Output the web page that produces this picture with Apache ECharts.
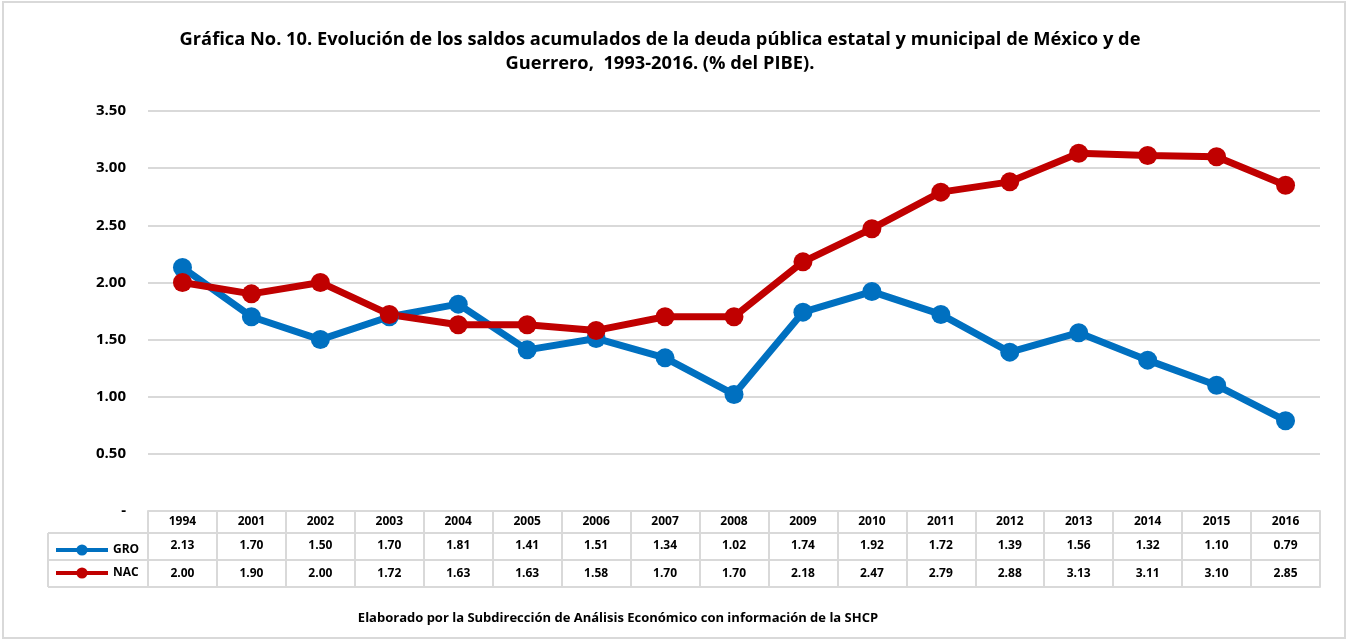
<!DOCTYPE html>
<html><head><meta charset="utf-8">
<script src="https://cdn.jsdelivr.net/npm/echarts@6/dist/echarts.min.js"></script>
<style>html,body{margin:0;padding:0;background:#fff}#c{width:1349px;height:642px}</style>
</head><body><div id="c"></div>
<script>
const years = ['1994','2001','2002','2003','2004','2005','2006','2007','2008','2009','2010','2011','2012','2013','2014','2015','2016'];
const GRO = [2.13,1.70,1.50,1.70,1.81,1.41,1.51,1.34,1.02,1.74,1.92,1.72,1.39,1.56,1.32,1.10,0.79];
const NAC = [2.00,1.90,2.00,1.72,1.63,1.63,1.58,1.70,1.70,2.18,2.47,2.79,2.88,3.13,3.11,3.10,2.85];
const yTicks = [0,0.5,1,1.5,2,2.5,3,3.5];

const FONT = '"Open Sans", "DejaVu Sans", sans-serif';
const BORDER = '#d9d9d9';
const chart = echarts.init(document.getElementById('c'));
const G = {left:148, right:29, top:111, bottom:131};
function tableAxis(offset, fmt, tickLen, margin){
  return {
    type:'category', data:years, position:'bottom', offset:offset, boundaryGap:true,
    axisLine:{show:true, lineStyle:{color:BORDER, width:2}},
    axisTick:{show:true, interval:0, alignWithLabel:false, length:tickLen, lineStyle:{color:BORDER, width:2}},
    axisLabel:{show:true, interval:0, margin:margin, color:'#000', fontWeight:'bold', fontSize:12, fontFamily:FONT, formatter:fmt},
    splitLine:{show:false}
  };
}
const bottomY = 642 - G.bottom;
chart.setOption({
  animation:false,
  title:{
    text:'Gráfica No. 10. Evolución de los saldos acumulados de la deuda pública estatal y municipal de México y de\nGuerrero,  1993-2016. (% del PIBE).',
    left:655, top:23, textAlign:'center',
    textStyle:{fontFamily:FONT, fontWeight:'bold', fontSize:18.3, lineHeight:24, color:'#000'}
  },
  grid:G,
  legend:{
    orient:'vertical', left:49, top:539, itemGap:11, itemWidth:52, itemHeight:14,
    lineStyle:{width:4},
    textStyle:{color:'#000', fontWeight:'bold', fontSize:12, fontFamily:FONT},
    data:['GRO','NAC']
  },
  xAxis:[
    tableAxis(0, v=>v, 22, 5),
    tableAxis(22, (v,i)=>GRO[i].toFixed(2), 27, 7),
    tableAxis(49, (v,i)=>NAC[i].toFixed(2), 27, 8),
    {type:'category', data:years, position:'bottom', offset:76, axisLine:{show:true, lineStyle:{color:BORDER,width:2}}, axisTick:{show:false}, axisLabel:{show:false}}
  ],
  yAxis:{
    type:'value', min:0, max:3.5, interval:0.5,
    axisLine:{show:false}, axisTick:{show:false},
    splitLine:{lineStyle:{color:BORDER, width:2}},
    axisLabel:{margin:22, color:'#000', fontWeight:'bold', fontSize:15, fontFamily:FONT,
      formatter:v=> v===0 ? '-' : v.toFixed(2)}
  },
  series:[
    {name:'GRO', type:'line', data:GRO, xAxisIndex:0, symbol:'circle', symbolSize:19,
     lineStyle:{color:'#0070C0', width:7}, itemStyle:{color:'#0070C0'}},
    {name:'NAC', type:'line', data:NAC, xAxisIndex:0, symbol:'circle', symbolSize:19,
     lineStyle:{color:'#C00000', width:7}, itemStyle:{color:'#C00000'}}
  ],
  graphic:[
    {type:'rect', shape:{x:3, y:2, width:1342, height:636}, style:{fill:'none', stroke:BORDER, lineWidth:2}, silent:true},
    {type:'line', shape:{x1:48, y1:bottomY+22, x2:148, y2:bottomY+22}, style:{stroke:BORDER, lineWidth:2}},
    {type:'line', shape:{x1:48, y1:bottomY+49, x2:148, y2:bottomY+49}, style:{stroke:BORDER, lineWidth:2}},
    {type:'line', shape:{x1:48, y1:bottomY+76, x2:148, y2:bottomY+76}, style:{stroke:BORDER, lineWidth:2}},
    {type:'line', shape:{x1:48, y1:bottomY+22, x2:48, y2:bottomY+76}, style:{stroke:BORDER, lineWidth:2}},
    {type:'text', x:618, y:612, style:{text:'Elaborado por la Subdirección de Análisis Económico con información de la SHCP', fill:'#000', font:'bold 13px "Open Sans", sans-serif', textAlign:'center'}}
  ]
});
</script></body></html>
